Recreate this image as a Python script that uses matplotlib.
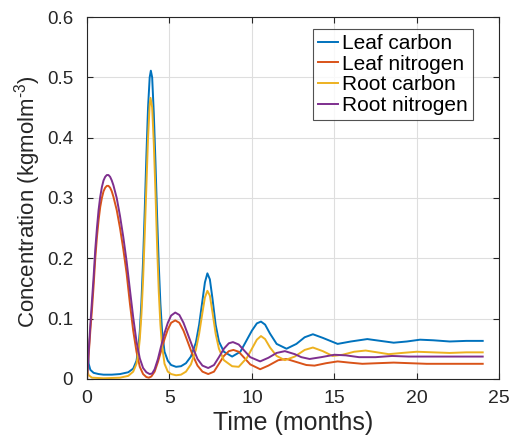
import matplotlib
matplotlib.use("Agg")
import matplotlib.pyplot as plt

plt.rcParams["font.family"] = ["Liberation Sans", "DejaVu Sans"]
plt.rcParams["mathtext.fontset"] = "custom"
plt.rcParams["mathtext.rm"] = "Liberation Sans"
plt.rcParams["mathtext.default"] = "regular"

# Leaf carbon
t_lc = [0, 0.05, 0.1, 0.2, 0.4, 0.7, 1.0, 1.5, 2.0, 2.5, 2.8, 3.0, 3.1, 3.2, 3.3, 3.4,
        3.5, 3.6, 3.7, 3.8, 3.87, 3.95, 4.05, 4.15, 4.25, 4.35, 4.45, 4.55, 4.7, 4.9,
        5.1, 5.4, 5.7, 6.0, 6.3, 6.6, 6.8, 7.0, 7.15, 7.3, 7.45, 7.6, 7.8, 8.0, 8.3,
        8.8, 9.3, 9.7, 10.0, 10.3, 10.55, 10.8, 11.1, 11.5, 12.1, 12.7, 13.2, 13.7,
        14.3, 15.2, 16.0, 17.0, 17.8, 18.6, 19.4, 20.2, 21.0, 22.0, 23.0, 24.0]
leaf_carbon = [0.068, 0.042, 0.025, 0.015, 0.010, 0.008, 0.007, 0.007, 0.008, 0.011,
               0.017, 0.030, 0.048, 0.079, 0.128, 0.197, 0.280, 0.370, 0.450, 0.500,
               0.511, 0.500, 0.440, 0.360, 0.270, 0.190, 0.125, 0.080, 0.045, 0.030,
               0.023, 0.020, 0.021, 0.026, 0.037, 0.060, 0.090, 0.130, 0.160, 0.175,
               0.165, 0.135, 0.090, 0.062, 0.045, 0.037, 0.045, 0.065, 0.080, 0.092,
               0.095, 0.090, 0.075, 0.058, 0.050, 0.058, 0.069, 0.074, 0.068, 0.058,
               0.062, 0.066, 0.063, 0.060, 0.062, 0.065, 0.064, 0.062, 0.063, 0.063]

# Leaf nitrogen
t_ln = [0, 0.1, 0.2, 0.3, 0.4, 0.5, 0.6, 0.7, 0.8, 0.9, 1.0, 1.1, 1.2, 1.3, 1.4, 1.5,
        1.6, 1.8, 2.0, 2.2, 2.4, 2.6, 2.8, 3.0, 3.2, 3.4, 3.6, 3.75, 3.9, 4.1, 4.3,
        4.5, 4.7, 4.9, 5.1, 5.35, 5.6, 5.85, 6.1, 6.4, 6.7, 7.0, 7.35, 7.7, 8.0, 8.3,
        8.6, 8.88, 9.2, 9.5, 9.9, 10.5, 11.0, 11.6, 12.1, 12.7, 13.3, 13.8, 14.5,
        15.2, 15.9, 16.7, 17.6, 18.6, 19.6, 20.6, 22.0, 23.0, 24.0]
leaf_nitrogen = [0.0, 0.04, 0.08, 0.115, 0.155, 0.2, 0.235, 0.263, 0.285, 0.300, 0.311,
                 0.317, 0.320, 0.320, 0.317, 0.311, 0.302, 0.280, 0.250, 0.215, 0.175,
                 0.125, 0.080, 0.045, 0.020, 0.008, 0.003, 0.002, 0.004, 0.012, 0.028,
                 0.047, 0.066, 0.082, 0.093, 0.097, 0.093, 0.080, 0.062, 0.040, 0.022,
                 0.012, 0.008, 0.012, 0.025, 0.038, 0.046, 0.048, 0.045, 0.036, 0.024,
                 0.016, 0.022, 0.031, 0.033, 0.028, 0.023, 0.022, 0.026, 0.029, 0.027,
                 0.025, 0.026, 0.027, 0.026, 0.025, 0.025, 0.025, 0.025]

# Root carbon
t_rc = [0, 0.1, 0.3, 1.0, 2.0, 2.5, 2.8, 3.0, 3.1, 3.2, 3.3, 3.4, 3.5, 3.6, 3.7, 3.8,
        3.85, 3.95, 4.05, 4.15, 4.25, 4.35, 4.45, 4.55, 4.7, 4.9, 5.1, 5.4, 5.7, 6.0,
        6.3, 6.6, 6.8, 7.0, 7.15, 7.3, 7.45, 7.6, 7.8, 8.0, 8.3, 8.8, 9.2, 9.7, 10.0,
        10.3, 10.55, 10.8, 11.1, 11.5, 12.0, 12.6, 13.2, 13.7, 14.3, 14.9, 15.5, 16.2,
        16.9, 17.6, 18.3, 19.1, 20.0, 21.0, 22.0, 23.0, 24.0]
root_carbon = [0.015, 0.006, 0.002, 0.001, 0.002, 0.005, 0.012, 0.025, 0.040, 0.066,
               0.107, 0.165, 0.240, 0.320, 0.400, 0.455, 0.466, 0.450, 0.390, 0.310,
               0.220, 0.145, 0.090, 0.055, 0.025, 0.012, 0.008, 0.006, 0.007, 0.012,
               0.024, 0.048, 0.075, 0.110, 0.135, 0.146, 0.138, 0.112, 0.075, 0.050,
               0.031, 0.021, 0.020, 0.035, 0.050, 0.065, 0.071, 0.066, 0.052, 0.038,
               0.031, 0.037, 0.048, 0.052, 0.046, 0.038, 0.040, 0.045, 0.047, 0.044,
               0.041, 0.043, 0.045, 0.044, 0.043, 0.044, 0.044]

# Root nitrogen
t_rn = [0, 0.1, 0.2, 0.3, 0.4, 0.5, 0.6, 0.7, 0.8, 0.9, 1.0, 1.1, 1.2, 1.3, 1.4, 1.5,
        1.6, 1.8, 2.0, 2.2, 2.4, 2.6, 2.8, 3.0, 3.2, 3.4, 3.6, 3.8, 3.95, 4.1, 4.3,
        4.5, 4.7, 4.9, 5.1, 5.35, 5.6, 5.85, 6.1, 6.4, 6.7, 7.0, 7.35, 7.7, 8.0, 8.3,
        8.6, 8.85, 9.2, 9.5, 9.9, 10.5, 11.0, 11.5, 12.0, 12.6, 13.0, 13.5, 14.2,
        15.0, 15.7, 16.5, 17.5, 18.5, 19.5, 20.5, 22.0, 23.0, 24.0]
root_nitrogen = [0.0, 0.045, 0.09, 0.13, 0.17, 0.215, 0.25, 0.28, 0.302, 0.318, 0.329,
                 0.335, 0.338, 0.338, 0.335, 0.329, 0.321, 0.300, 0.270, 0.235, 0.195,
                 0.148, 0.102, 0.062, 0.034, 0.018, 0.011, 0.008, 0.009, 0.016, 0.033,
                 0.055, 0.076, 0.093, 0.105, 0.110, 0.106, 0.093, 0.075, 0.053, 0.033,
                 0.022, 0.018, 0.023, 0.036, 0.050, 0.059, 0.061, 0.057, 0.048, 0.036,
                 0.029, 0.035, 0.043, 0.046, 0.041, 0.036, 0.033, 0.036, 0.040, 0.039,
                 0.036, 0.036, 0.038, 0.037, 0.037, 0.037, 0.037, 0.037]

fig = plt.figure(figsize=(5.12, 4.36), dpi=100)
ax = fig.add_axes([0.170, 0.131, 0.805, 0.830])

ax.plot(t_lc, leaf_carbon, color="#0072BD", lw=1.4, label="Leaf carbon")
ax.plot(t_ln, leaf_nitrogen, color="#D95319", lw=1.4, label="Leaf nitrogen")
ax.plot(t_rc, root_carbon, color="#EDB120", lw=1.4, label="Root carbon")
ax.plot(t_rn, root_nitrogen, color="#7E2F8E", lw=1.4, label="Root nitrogen")

ax.set_xlim(0, 25)
ax.set_ylim(0, 0.6)
ax.set_xticks([0, 5, 10, 15, 20, 25])
ax.set_yticks([0, 0.1, 0.2, 0.3, 0.4, 0.5, 0.6])
ax.set_yticklabels(["0", "0.1", "0.2", "0.3", "0.4", "0.5", "0.6"])
ax.grid(True, color="0.87", lw=0.8)
ax.set_axisbelow(True)
ax.tick_params(direction="in", top=True, right=True, labelsize=14,
               colors="0.15", length=4, width=0.8)
ax.tick_params(axis="x", pad=8)
ax.tick_params(axis="y", labelsize=13.5, pad=10)
for s in ax.spines.values():
    s.set_color("0.15")
    s.set_linewidth(0.8)

ax.set_xlabel("Time (months)", fontsize=18, color="0.15")
ax.xaxis.set_label_coords(0.5, -0.088)
ax.set_ylabel("Concentration (kgmolm$^{\\text{-}3}$)", fontsize=16, color="0.15")
ax.yaxis.set_label_coords(-0.108, 0.49)

leg = ax.legend(loc="upper right", bbox_to_anchor=(0.952, 0.985), fontsize=15,
                frameon=True, fancybox=False, handlelength=0.95, handletextpad=0.2,
                borderpad=0.25, labelspacing=0.08, borderaxespad=0.3)
leg.get_frame().set_edgecolor("0.15")
leg.get_frame().set_linewidth(0.8)

fig.savefig("out.png", dpi=100)
